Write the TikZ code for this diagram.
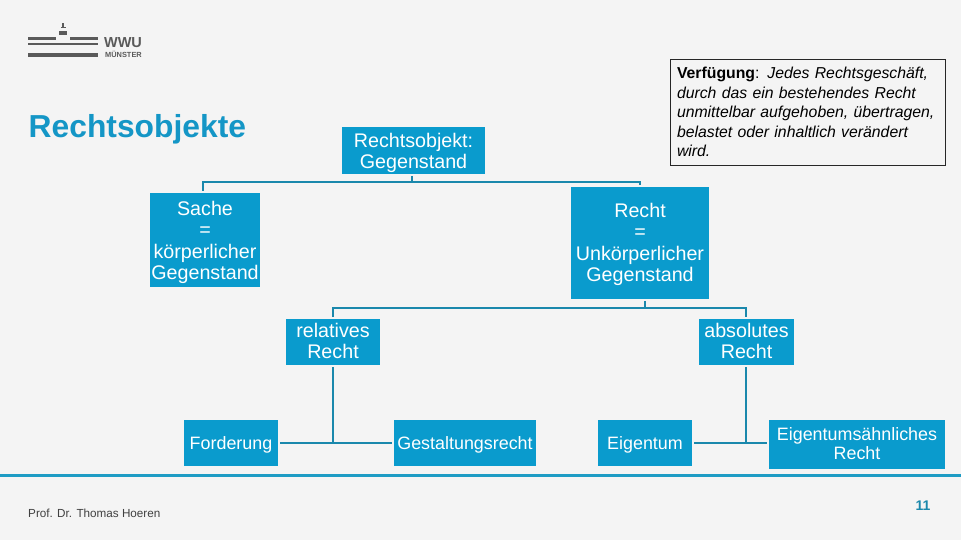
\documentclass[tikz,border=0pt]{standalone}
\usepackage{fontspec}
\setmainfont{Liberation Sans}
\definecolor{bgc}{HTML}{F4F4F4}
\definecolor{boxc}{HTML}{0A9BCD}
\definecolor{linec}{HTML}{1A88AC}
\definecolor{rulec}{HTML}{1E9CC4}
\definecolor{titlec}{HTML}{1496C6}
\definecolor{logoc}{HTML}{5A5A5A}
\newcommand{\tp}[1]{\rule{0pt}{#1pt}}
\newcommand{\bt}[1]{\rule[-#1pt]{0pt}{0pt}}
\tikzset{
  boxn/.style={fill=boxc,text=white,inner sep=0pt,outer sep=0pt,align=center,
    font=\fontsize{19.7}{21.5}\selectfont},
  leaf/.style={boxn,font=\fontsize{17.9}{19.5}\selectfont},
  conn/.style={draw=linec,line width=2.2pt},
  logobar/.style={fill=logoc,draw=none},
}
\begin{document}
\begin{tikzpicture}[x=1pt,y=-1pt]
\useasboundingbox (0,0) rectangle (961,540);
\fill[bgc] (0,0) rectangle (961,540);
% logo
\fill[logobar] (28,37) rectangle (56,40);
\fill[logobar] (70,37) rectangle (98,40);
\fill[logobar] (28,43) rectangle (98,45.5);
\fill[logobar] (28,53.5) rectangle (98,57);
\fill[logobar] (59,31) rectangle (67,35);
\fill[logobar] (60.5,27) rectangle (65.5,28.5);
\fill[logobar] (62.3,23) rectangle (63.7,28);
\node[logoc,inner sep=0pt,anchor=center,font=\fontsize{14.5}{15}\selectfont\bfseries] (wwu) at (123,43) {WWU};
\node[logoc,inner sep=0pt,anchor=center,font=\fontsize{7.4}{8}\selectfont\bfseries] (muenster) at (123.5,54) {MÜNSTER};
% title
\node[titlec,inner sep=0pt,anchor=base west,font=\fontsize{31.8}{34}\selectfont\bfseries] (title) at (28.5,138) {Rechtsobjekte};
% boxes
\node[boxn,minimum width=143pt,minimum height=47pt] (ro) at (413.5,150.5) {\tp{19.2}Rechtsobjekt:\\Gegenstand};
\node[boxn,minimum width=110pt,minimum height=94pt] (sache) at (205,240) {\tp{19.2}Sache\\=\\körperlicher\\Gegenstand};
\node[boxn,minimum width=138pt,minimum height=112pt] (recht) at (640,243) {\tp{17.2}Recht\\=\\Unkörperlicher\\Gegenstand};
\node[boxn,minimum width=94pt,minimum height=46pt] (rel) at (333,342) {relatives\\Recht\bt{2}};
\node[boxn,minimum width=95pt,minimum height=46pt] (abs) at (746.5,342) {absolutes\\Recht\bt{2}};
\node[leaf,minimum width=94pt,minimum height=46pt] (ford) at (231,443) {\tp{17}Forderung};
\node[leaf,minimum width=142pt,minimum height=46pt] (gest) at (465,443) {\tp{17}Gestaltungsrecht};
\node[leaf,minimum width=94pt,minimum height=46pt] (eig) at (645,443) {\tp{17}Eigentum};
\node[leaf,minimum width=176pt,minimum height=49pt] (eigae) at (857,444.5) {Eigentumsähnliches\\Recht\bt{2}};
% note
\node[draw=black!85,line width=0.9pt,inner sep=0pt,minimum width=275pt,minimum height=106pt,
  text width=262pt,align=left,font=\fontsize{15.8}{19.5}\selectfont] (note) at (808,112)
  {\textbf{Verfügung}: \textit{Jedes Rechtsgeschäft,}\\\textit{durch das ein bestehendes Recht}\\\textit{unmittelbar aufgehoben, übertragen,}\\\textit{belastet oder inhaltlich verändert}\\\textit{wird.}};
% connectors
\coordinate (j1) at (412,182);
\coordinate (j2) at (645,308);
\coordinate (j3) at (333,443);
\coordinate (j4) at (746,443);
\draw[conn] ([yshift=-2pt]ro.south -| j1) -- (j1);
\draw[conn] ([yshift=2pt]sache.north -| 203,0) -- (203,182) -- (j1) -- (640,182) -- ([yshift=2pt]recht.north -| 640,0);
\draw[conn] ([yshift=-2pt]recht.south -| j2) -- (j2);
\draw[conn] ([yshift=2pt]rel.north) -- (rel.north |- j2) -- (j2) -- (j4 |- j2) -- ([yshift=2pt]abs.north -| j4);
\draw[conn] ([yshift=-2pt]rel.south) -- (j3);
\draw[conn] ([xshift=2pt]ford.east) -- (j3) -- ([xshift=-2pt]gest.west);
\draw[conn] ([yshift=-2pt]abs.south -| j4) -- (j4);
\draw[conn] ([xshift=2pt]eig.east) -- (j4) -- ([xshift=-2pt]eigae.west |- j4);
% footer
\fill[rulec] (0,473.7) rectangle (961,476.5);
\node[black!75,inner sep=0pt,anchor=base west,font=\fontsize{11.7}{14}\selectfont] (prof) at (28,517) {Prof. Dr. Thomas Hoeren};
\node[linec,inner sep=0pt,anchor=center,font=\fontsize{14}{15}\selectfont\bfseries] (pg) at (923,506) {11};
\end{tikzpicture}
\end{document}
